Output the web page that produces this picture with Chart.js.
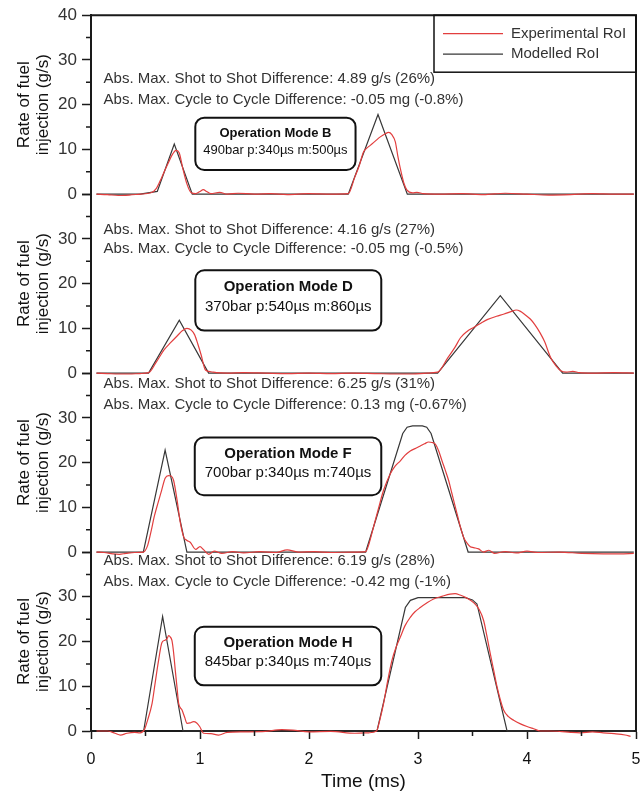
<!DOCTYPE html>
<html>
<head>
<meta charset="utf-8">
<script src="https://cdn.jsdelivr.net/npm/chart.js@4.4.1/dist/chart.umd.min.js"></script>
<style>
html, body { margin: 0; padding: 0; background: #fff; }
canvas { display: block; }
</style>
</head>
<body>
<canvas id="chart" width="644" height="791"></canvas>
<script>
// ---- data (time in ms, rate in g/s) ----
const panelModes = ['B', 'D', 'F', 'H'];
const shotDiff = ['4.89 g/s (26%)', '4.16 g/s (27%)', '6.25 g/s (31%)', '6.19 g/s (28%)'];
const cycleDiff = ['-0.05 mg (-0.8%)', '-0.05 mg (-0.5%)', '0.13 mg (-0.67%)', '-0.42 mg (-1%)'];
const modeSettings = ['490bar p:340µs m:500µs', '370bar p:540µs m:860µs', '700bar p:340µs m:740µs', '845bar p:340µs m:740µs'];
const seriesNames = ['Experimental RoI', 'Modelled RoI'];
const xTicks = [0, 1, 2, 3, 4, 5];
const yTicks = [0, 10, 20, 30, 40];

// Mode B
const modB_t = [0.05, 0.45, 0.608, 0.764, 0.929, 2.36, 2.633, 2.902, 4.98];
const modB_v = [0, 0, 0.6, 11.2, 0, 0, 17.8, 0, 0];
const expB_t = [0.05, 0.15, 0.25, 0.35, 0.45, 0.55, 0.6, 0.65, 0.7, 0.75, 0.78, 0.81, 0.84, 0.88, 0.92, 0.96, 1.0, 1.03, 1.06, 1.1, 1.18, 1.25, 1.35, 1.5, 1.65, 1.8, 2.0, 2.2, 2.36, 2.42, 2.46, 2.5, 2.53, 2.562, 2.61, 2.654, 2.7, 2.73, 2.76, 2.792, 2.815, 2.838, 2.87, 2.899, 2.95, 2.99, 3.05, 3.2, 3.4, 3.6, 3.8, 4.0, 4.2, 4.4, 4.6, 4.8, 4.98];
const expB_v = [0, -0.1, -0.3, -0.2, 0, 0.3, 1.3, 3.8, 6.5, 9, 9.8, 9.2, 6, 2.3, 0.3, 0.1, 0.6, 1, 0.6, 0.1, 0.4, 0, 0.2, 0, 0.1, -0.1, 0.1, 0, 0.1, 3.8, 6.3, 9.4, 10.3, 10.9, 11.9, 12.8, 13.5, 13.8, 13.3, 11.7, 8.5, 5.7, 2.5, 0.9, 0.3, 0.4, 0.1, 0, 0.1, -0.1, 0.2, 0, -0.2, -0.1, 0.1, 0, 0];

// Mode D
const modD_t = [0.05, 0.528, 0.81, 1.079, 3.18, 3.755, 4.327, 4.98];
const modD_v = [0, 0, 11.8, 0, 0, 17.3, 0, 0];
const expD_t = [0.05, 0.15, 0.25, 0.35, 0.45, 0.53, 0.6, 0.67, 0.73, 0.79, 0.84, 0.88, 0.92, 0.95, 0.98, 1.01, 1.05, 1.1, 1.15, 1.25, 1.4, 1.6, 1.8, 2.0, 2.2, 2.4, 2.6, 2.8, 2.95, 3.08, 3.18, 3.27, 3.34, 3.39, 3.45, 3.51, 3.58, 3.64, 3.72, 3.79, 3.86, 3.9, 3.94, 3.98, 4.03, 4.07, 4.12, 4.16, 4.22, 4.27, 4.31, 4.36, 4.42, 4.48, 4.6, 4.8, 4.98];
const expD_v = [0, -0.1, -0.2, -0.2, -0.1, 0.1, 2.5, 5.2, 6.8, 8.3, 9.5, 10, 9.6, 8.6, 6.5, 4.1, 0.7, 0.3, 0.1, 0, 0.1, 0, -0.1, 0, -0.1, 0, -0.1, -0.2, -0.2, 0, 0.2, 3.3, 5.8, 7.9, 9.3, 10.2, 11.2, 12, 12.7, 13.2, 13.8, 14.1, 13.8, 13.1, 12.1, 10.9, 9, 7.1, 3.3, 1.5, 0.5, 0.2, 0.4, 0.1, 0, 0.1, 0];

// Mode F
const modF_t = [0.05, 0.48, 0.68, 0.88, 2.52, 2.86, 2.9, 2.95, 3.04, 3.08, 3.12, 3.46, 4.98];
const modF_v = [0, 0, 22.8, 0, 0, 26.5, 27.9, 28.2, 28.2, 27.9, 26.5, 0, 0];
const expF_t = [0.05, 0.12, 0.2, 0.26, 0.32, 0.4, 0.48, 0.52, 0.55, 0.58, 0.615, 0.648, 0.68, 0.712, 0.735, 0.758, 0.789, 0.82, 0.85, 0.88, 0.91, 0.96, 1.0, 1.03, 1.08, 1.13, 1.2, 1.3, 1.4, 1.55, 1.7, 1.8, 1.9, 2.05, 2.2, 2.4, 2.52, 2.55, 2.593, 2.64, 2.684, 2.746, 2.79, 2.838, 2.88, 2.929, 2.98, 3.021, 3.06, 3.097, 3.13, 3.159, 3.19, 3.22, 3.25, 3.281, 3.31, 3.342, 3.365, 3.388, 3.42, 3.45, 3.48, 3.51, 3.556, 3.602, 3.65, 3.7, 3.8, 3.9, 4.0, 4.1, 4.3, 4.5, 4.7, 4.85, 4.98];
const expF_v = [0, -0.1, -0.4, -0.5, -0.3, -0.1, 0, 1.5, 4.5, 7.9, 11, 13.8, 16.5, 17.1, 17, 16, 11.7, 6.5, 3.4, 2.6, 2.2, 0.6, 1.2, 0.6, -0.5, 0.2, -0.3, 0.1, -0.2, 0.1, -0.1, 0.5, 0, 0.1, -0.1, 0, 0.1, 1.8, 5.7, 10, 13.8, 17.5, 19.2, 20.4, 21.6, 22.6, 23.2, 23.7, 24.2, 24.6, 24.5, 24.1, 22.6, 20.4, 18.3, 16, 13.2, 10.1, 7.9, 5.7, 3.2, 2, 1.2, 1, 0.7, 0, 0.4, -0.3, 0.1, -0.2, 0.2, -0.1, 0, -0.3, -0.4, -0.4, -0.3];

// Mode H
const modH_t = [0.05, 0.483, 0.657, 0.844, 2.624, 2.884, 2.93, 3.0, 3.434, 3.5, 3.541, 3.817, 4.98];
const modH_v = [0, 0, 25.6, 0, 0, 27.6, 29.2, 29.8, 29.8, 29.3, 28.4, 0, 0];
const expH_t = [0.05, 0.15, 0.22, 0.27, 0.33, 0.4, 0.45, 0.49, 0.52, 0.56, 0.59, 0.62, 0.651, 0.68, 0.697, 0.712, 0.728, 0.743, 0.758, 0.773, 0.79, 0.804, 0.835, 0.86, 0.881, 0.91, 0.941, 0.97, 0.997, 1.033, 1.1, 1.17, 1.25, 1.4, 1.6, 1.75, 1.85, 2.0, 2.2, 2.42, 2.55, 2.62, 2.65, 2.684, 2.72, 2.761, 2.8, 2.838, 2.88, 2.929, 2.97, 3.021, 3.08, 3.143, 3.22, 3.294, 3.34, 3.386, 3.45, 3.51, 3.56, 3.602, 3.63, 3.663, 3.695, 3.725, 3.755, 3.785, 3.83, 3.877, 3.94, 4.0, 4.06, 4.122, 4.2, 4.3, 4.4, 4.49, 4.6, 4.7, 4.8, 4.9, 4.95];
const expH_v = [0, 0, -0.5, -0.9, -0.5, -0.3, -0.4, 0.3, 2.5, 6.1, 11, 15.8, 19.8, 20.3, 20.6, 21.3, 21, 20.2, 17.5, 13.6, 9.5, 6.2, 4.7, 3, 1.7, 1.8, 2.1, 1.8, 1, -0.5, -0.6, -0.9, -0.3, -0.2, -0.1, 0.3, 0.2, -0.2, -0.1, -0.5, -0.4, 0, 2.5, 6.1, 11, 15.8, 18.8, 21, 23.5, 25.4, 26.6, 27.6, 28.6, 29.5, 30.1, 30.6, 30.7, 30.4, 29.7, 28.7, 27.2, 24.7, 21.5, 17.3, 13.5, 9.9, 7, 4.7, 3.2, 2.4, 1.6, 1, 0.5, 0, 0, -0.1, -0.3, -0.4, -0.2, -0.4, -0.6, -0.9, -1.2];

const expT = [expB_t, expD_t, expF_t, expH_t];
const expV = [expB_v, expD_v, expF_v, expH_v];
const modT = [modB_t, modD_t, modF_t, modH_t];
const modV = [modB_v, modD_v, modF_v, modH_v];

// ---- styling ----
const RED = 'rgb(226, 62, 62)';
const DARK = 'rgb(55, 55, 55)';
const AXIS = '#1a1a1a';
const FONT = '"Liberation Sans", Arial, sans-serif';
const axisIds = ['yB', 'yD', 'yF', 'yH'];

function points(ts, vs) {
    return ts.map((t, i) => ({ x: t, y: vs[i] }));
}

const datasets = [];
panelModes.forEach((m, i) => {
    datasets.push({
        label: seriesNames[0],
        data: points(expT[i], expV[i]),
        yAxisID: axisIds[i],
        borderColor: RED,
        borderWidth: 1.2,
        pointRadius: 0,
        cubicInterpolationMode: 'monotone',
        clip: false
    });
    datasets.push({
        label: seriesNames[1],
        data: points(modT[i], modV[i]),
        yAxisID: axisIds[i],
        borderColor: DARK,
        borderWidth: 1.2,
        pointRadius: 0,
        tension: 0,
        clip: false
    });
});

function yScale(i) {
    return {
        type: 'linear',
        position: 'left',
        stack: 'rate',
        stackWeight: 1,
        weight: 4 - i,
        min: 0,
        max: 40,
        afterFit: s => { s.width = 91; },
        afterBuildTicks: s => { s.ticks = yTicks.map(v => ({ value: v })); },
        ticks: {
            color: '#333',
            font: { family: FONT, size: 17 },
            padding: 5,
            callback: v => (i > 0 && v === 40) ? '' : String(v)
        },
        grid: { display: true, drawOnChartArea: false, tickLength: 9, tickColor: AXIS, tickWidth: 1.5 },
        border: { display: true, color: AXIS, width: 2 },
        title: {
            display: true,
            text: ['Rate of fuel', 'injection (g/s)'],
            color: '#111',
            font: { family: FONT, size: 17, lineHeight: 1.1 },
            padding: { top: 15, bottom: 0 }
        }
    };
}

const scales = {
    x: {
        type: 'linear',
        position: 'bottom',
        min: 0,
        max: 5,
        afterFit: s => { s.height = 60; s.paddingRight = 0; s.paddingLeft = 0; },
        afterBuildTicks: s => { s.ticks = xTicks.map(v => ({ value: v })); },
        ticks: { color: '#111', font: { family: FONT, size: 16 }, padding: 11, maxRotation: 0 },
        grid: { display: true, drawOnChartArea: false, tickLength: 8, tickColor: AXIS, tickWidth: 1.5 },
        border: { display: true, color: AXIS, width: 2 },
        title: {
            display: true,
            text: 'Time (ms)',
            color: '#111',
            font: { family: FONT, size: 19, lineHeight: 1 },
            padding: { top: 0, bottom: 0 }
        }
    }
};
// top panel is defined last so it ends up on top of the stack
for (let i = panelModes.length - 1; i >= 0; i--) {
    scales[axisIds[i]] = yScale(i);
}

// positions of the notes, in data units of each panel
const notePos = [
    { l1: 25.7, l2: 21.1, bx0: 0.957, bx1: 2.427, bTop: 17.1, bBot: 5.4, t1: 13.6, t2: 9.8, f1: 13, f2: 13 },
    { l1: 32.1, l2: 27.8, bx0: 0.957, bx1: 2.663, bTop: 23.0, bBot: 9.5, t1: 19.2, t2: 14.9, f1: 15, f2: 15 },
    { l1: 37.6, l2: 33.0, bx0: 0.952, bx1: 2.663, bTop: 25.6, bBot: 12.7, t1: 21.9, t2: 17.7, f1: 15, f2: 15 },
    { l1: 38.0, l2: 33.3, bx0: 0.952, bx1: 2.663, bTop: 23.3, bBot: 10.2, t1: 19.6, t2: 15.4, f1: 15, f2: 15 }
];

function roundBox(ctx, x, y, w, h, r) {
    ctx.beginPath();
    ctx.moveTo(x + r, y);
    ctx.lineTo(x + w - r, y);
    ctx.arcTo(x + w, y, x + w, y + r, r);
    ctx.lineTo(x + w, y + h - r);
    ctx.arcTo(x + w, y + h, x + w - r, y + h, r);
    ctx.lineTo(x + r, y + h);
    ctx.arcTo(x, y + h, x, y + h - r, r);
    ctx.lineTo(x, y + r);
    ctx.arcTo(x, y, x + r, y, r);
    ctx.closePath();
}

const extras = {
    id: 'extras',
    afterDraw(chart) {
        const ctx = chart.ctx;
        const xs = chart.scales.x;
        const area = chart.chartArea;
        ctx.save();

        // minor ticks
        ctx.strokeStyle = AXIS;
        ctx.lineWidth = 1.5;
        ctx.beginPath();
        [0.5, 1.5, 2.5, 3.5, 4.5].forEach(v => {
            const px = xs.getPixelForValue(v);
            ctx.moveTo(px, xs.top);
            ctx.lineTo(px, xs.top + 5);
        });
        axisIds.forEach(id => {
            const ys = chart.scales[id];
            [5, 15, 25, 35].forEach(v => {
                const py = ys.getPixelForValue(v);
                ctx.moveTo(ys.right - 5, py);
                ctx.lineTo(ys.right, py);
            });
        });
        ctx.stroke();

        // frame top and right
        ctx.lineWidth = 2;
        ctx.beginPath();
        ctx.moveTo(area.left, area.top);
        ctx.lineTo(area.right, area.top);
        ctx.lineTo(area.right, area.bottom);
        ctx.stroke();

        // legend
        const lw = 202, lh = 57;
        const lx = area.right - lw, ly = area.top;
        ctx.lineWidth = 1.5;
        ctx.strokeStyle = '#111';
        ctx.strokeRect(lx, ly, lw, lh);
        [RED, DARK].forEach((c, k) => {
            const yy = ly + 18.5 + k * 20.5;
            ctx.strokeStyle = c;
            ctx.lineWidth = 1.3;
            ctx.beginPath();
            ctx.moveTo(lx + 9, yy);
            ctx.lineTo(lx + 69, yy);
            ctx.stroke();
            ctx.fillStyle = '#333';
            ctx.font = '15px ' + FONT;
            ctx.textAlign = 'left';
            ctx.textBaseline = 'middle';
            ctx.fillText(seriesNames[k], lx + 77, yy);
        });

        // notes and mode boxes
        panelModes.forEach((m, i) => {
            const ys = chart.scales[axisIds[i]];
            const p = notePos[i];
            const tx = xs.getPixelForValue(0.115);
            ctx.fillStyle = '#333';
            ctx.font = '15px ' + FONT;
            ctx.textAlign = 'left';
            ctx.textBaseline = 'middle';
            ctx.fillText('Abs. Max. Shot to Shot Difference: ' + shotDiff[i], tx, ys.getPixelForValue(p.l1));
            ctx.fillText('Abs. Max. Cycle to Cycle Difference: ' + cycleDiff[i], tx, ys.getPixelForValue(p.l2));

            const bx0 = xs.getPixelForValue(p.bx0), bx1 = xs.getPixelForValue(p.bx1);
            const by0 = ys.getPixelForValue(p.bTop), by1 = ys.getPixelForValue(p.bBot);
            ctx.fillStyle = '#fff';
            roundBox(ctx, bx0, by0, bx1 - bx0, by1 - by0, 9);
            ctx.fill();
            ctx.strokeStyle = '#111';
            ctx.lineWidth = 2;
            ctx.stroke();
            const cx = (bx0 + bx1) / 2;
            ctx.fillStyle = '#111';
            ctx.textAlign = 'center';
            ctx.font = 'bold ' + p.f1 + 'px ' + FONT;
            ctx.fillText('Operation Mode ' + m, cx, ys.getPixelForValue(p.t1));
            ctx.font = p.f2 + 'px ' + FONT;
            ctx.fillText(modeSettings[i], cx, ys.getPixelForValue(p.t2));
        });

        ctx.restore();
    }
};

new Chart(document.getElementById('chart').getContext('2d'), {
    type: 'line',
    data: { datasets: datasets },
    options: {
        responsive: false,
        animation: false,
        devicePixelRatio: 1,
        parsing: true,
        layout: { padding: { top: 14, right: 8, left: 0, bottom: 0 } },
        plugins: {
            legend: { display: false },
            tooltip: { enabled: false }
        },
        scales: scales
    },
    plugins: [extras]
});
</script>
</body>
</html>
